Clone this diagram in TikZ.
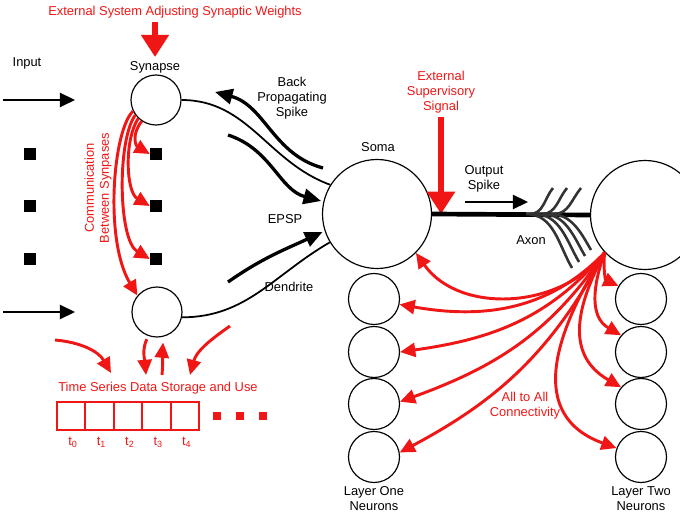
\documentclass[tikz,border=0pt]{standalone}
\usepackage{fontspec}
\setmainfont{Liberation Sans}
\usetikzlibrary{arrows.meta}
\definecolor{sigred}{RGB}{240,22,22}

\begin{document}
\begin{tikzpicture}[x=0.03cm, y=0.03cm,
      font=\fontsize{11}{12.8}\selectfont,
      cell/.style={draw, circle, line width=1pt, inner sep=0pt},
      dot/.style={fill, inner sep=0pt, minimum size=0.36cm},
      reddot/.style={fill=sigred, inner sep=0pt, minimum size=0.24cm},
      wire/.style={line width=1.5pt},
      branch/.style={line width=2.2pt, black!80},
      blkarrow/.style={line width=2.8pt, -{Triangle[length=15pt, width=13pt]}},
      redarrow/.style={sigred, line width=2.5pt, -{Triangle[length=13pt, width=12pt]}},
      bigarrow/.style={sigred, line width=5pt, -{Triangle[length=19pt, width=23pt]}},
      redtext/.style={text=sigred, align=center}]

   \useasboundingbox (0,0) rectangle (680,-514);
   \clip (0,0) rectangle (680,-514);

   \def \Cells {
      syn1/156/-100/1.5,
      syn2/157/-312/1.5,
      soma/377/-214/3.27,
      post/645/-215/3.27,
      a1/374/-299/1.53,
      a2/374/-352/1.53,
      a3/374/-404/1.53,
      a4/374/-457/1.53,
      b1/641/-299/1.53,
      b2/641/-352/1.53,
      b3/641/-404/1.53,
      b4/641/-457/1.53}
   \def \Dots {
      l1/30/-154,
      l2/30/-206,
      l3/30/-259,
      r1/156/-154,
      r2/156/-206,
      r3/156/-259}
   \foreach \n / \x / \y / \d in \Cells {
      \node[cell, minimum size=\d cm] (\n) at (\x, \y) {};
   }
   \foreach \n / \x / \y in \Dots {
      \node[dot] (\n) at (\x, \y) {};
   }

   % labels
   \node[redtext] (wts) at (175,-12) {External System Adjusting Synaptic Weights};
   \node (inlbl) at (27,-63) {Input};
   \node (synlbl) at (155,-67) {Synapse};
   \node[align=center] (bps) at (292,-98) {Back\\Propagating\\Spike};
   \node (epsp) at (285,-219) {EPSP};
   \node (dend) at (289,-287) {Dendrite};
   \node (somalbl) at (378,-147) {Soma};
   \node[redtext] (sup) at (441,-92) {External\\Supervisory\\Signal};
   \node[align=center] (ospk) at (484,-179) {Output\\Spike};
   \node (axon) at (531,-240) {Axon};
   \node[redtext, rotate=90] (comm) at (98,-188) {Communication\\Between Synpases};
   \node[redtext] (ts) at (158,-388) {Time Series Data Storage and Use};
   \node[redtext] (ata) at (525,-406) {All to All\\Connectivity};
   \node[align=center] (lay1) at (374,-499) {Layer One\\Neurons};
   \node[align=center] (lay2) at (641,-499) {Layer Two\\Neurons};

   % inputs and outside signals
   \coordinate (in1) at (3,-100);
   \coordinate (in2) at (75,-100);
   \coordinate (in3) at (3,-312);
   \coordinate (in4) at (75,-312);
   \draw[line width=2.5pt, -{Triangle[length=13pt, width=12pt]}] (in1) -- (in2);
   \draw[line width=2.5pt, -{Triangle[length=13pt, width=12pt]}] (in3) -- (in4);
   \draw[bigarrow] (wts.south -| synlbl) -- (synlbl.north);
   \draw[bigarrow] (sup.south) -- (sup.south |- soma.east);

   % dendrites and spikes
   \draw[wire] (syn1.east) to[out=0, in=160] (soma.148);
   \draw[wire] (syn2.-12) to[out=0, in=210] (soma.211);
   \coordinate (bpS) at (323,-168);
   \coordinate (bpE) at (215,-92);
   \draw[blkarrow] (bpS) to[out=165, in=-15] (bpE);
   \coordinate (ep1) at (228,-135);
   \draw[blkarrow, shorten >=2pt] (ep1) to[out=-18, in=165] (soma.167);
   \coordinate (ep2) at (228,-282);
   \draw[blkarrow, shorten >=2pt] (ep2) to[out=35, in=205] (soma.198);

   % axon
   \draw[line width=4pt] (soma.east) -- (post.west);
   \foreach \s / \ex / \ey in {530/553/-188, 542/567/-188, 554/581/-188} {
      \draw[branch] (\s,-214) to[out=0, in=230] (\ex,\ey);
   }
   \foreach \s / \ex / \ey in {526/572/-268, 534/579/-262, 542/585/-256, 550/591/-250} {
      \draw[branch] (\s,-214) to[out=0, in=120] (\ex,\ey);
   }
   \coordinate (os1) at (465,-202);
   \coordinate (os2) at (528,-202);
   \draw[line width=2.5pt, -{Triangle[length=13pt, width=12pt]}] (os1) -- (os2);

   % communication between synapses
   \draw[redarrow] (syn1.236) .. controls (131,-135) and (136,-146) .. (r1.west);
   \draw[redarrow] (syn1.226) .. controls (124,-140) and (126,-192) .. (r2.west);
   \draw[redarrow] (syn1.216) .. controls (117,-140) and (118,-240) .. (r3.west);
   \draw[redarrow] (syn1.206) .. controls (113,-130) and (104,-240) .. (syn2.140);

   % time series storage
   \coordinate (m1) at (55,-340);
   \coordinate (m2) at (111,-373);
   \coordinate (m3) at (146,-375);
   \coordinate (m4) at (162,-375);
   \coordinate (m5) at (230,-326);
   \coordinate (m6) at (190,-375);
   \draw[redarrow] (m1) to[out=-5, in=120] (m2);
   \draw[redarrow, shorten <=3pt] (syn2.250) to[out=245, in=95] (m3);
   \draw[redarrow, shorten >=5pt] (m4) to[out=85, in=-95] (syn2.285);
   \draw[redarrow] (m5) to[out=215, in=75] (m6);
   \foreach \i in {0,...,4} {
      \node[draw=sigred, line width=1.8pt, inner sep=0pt,
            minimum width=0.852cm, minimum height=0.84cm] (t\i) at (71.2+28.4*\i, -416) {};
      \node[text=sigred] (tl\i) at (73+28.4*\i, -442) {t\textsubscript{\i}};
   }
   \foreach \x [count=\k] in {217,240,263} {
      \node[reddot] (e\k) at (\x,-416) {};
   }

   % all to all connectivity
   \draw[redarrow] (post.223) to[out=232, in=-55] (soma.-45);
   \draw[redarrow] (post.223) to[out=226, in=-10] (a1.-12);
   \draw[redarrow] (post.223) to[out=230, in=8] (a2.0);
   \draw[redarrow] (post.223) to[out=236, in=20] (a3.5);
   \draw[redarrow] (post.223) to[out=242, in=28] (a4.10);
   \draw[redarrow] (post.223) to[out=262, in=155] (b1.150);
   \draw[redarrow] (post.223) to[out=250, in=150, looseness=1.1] (b2.140);
   \draw[redarrow] (post.223) to[out=242, in=150, looseness=1.2] (b3.140);
   \draw[redarrow] (post.223) to[out=238, in=160, looseness=1.25] (b4.160);
\end{tikzpicture}
\end{document}
